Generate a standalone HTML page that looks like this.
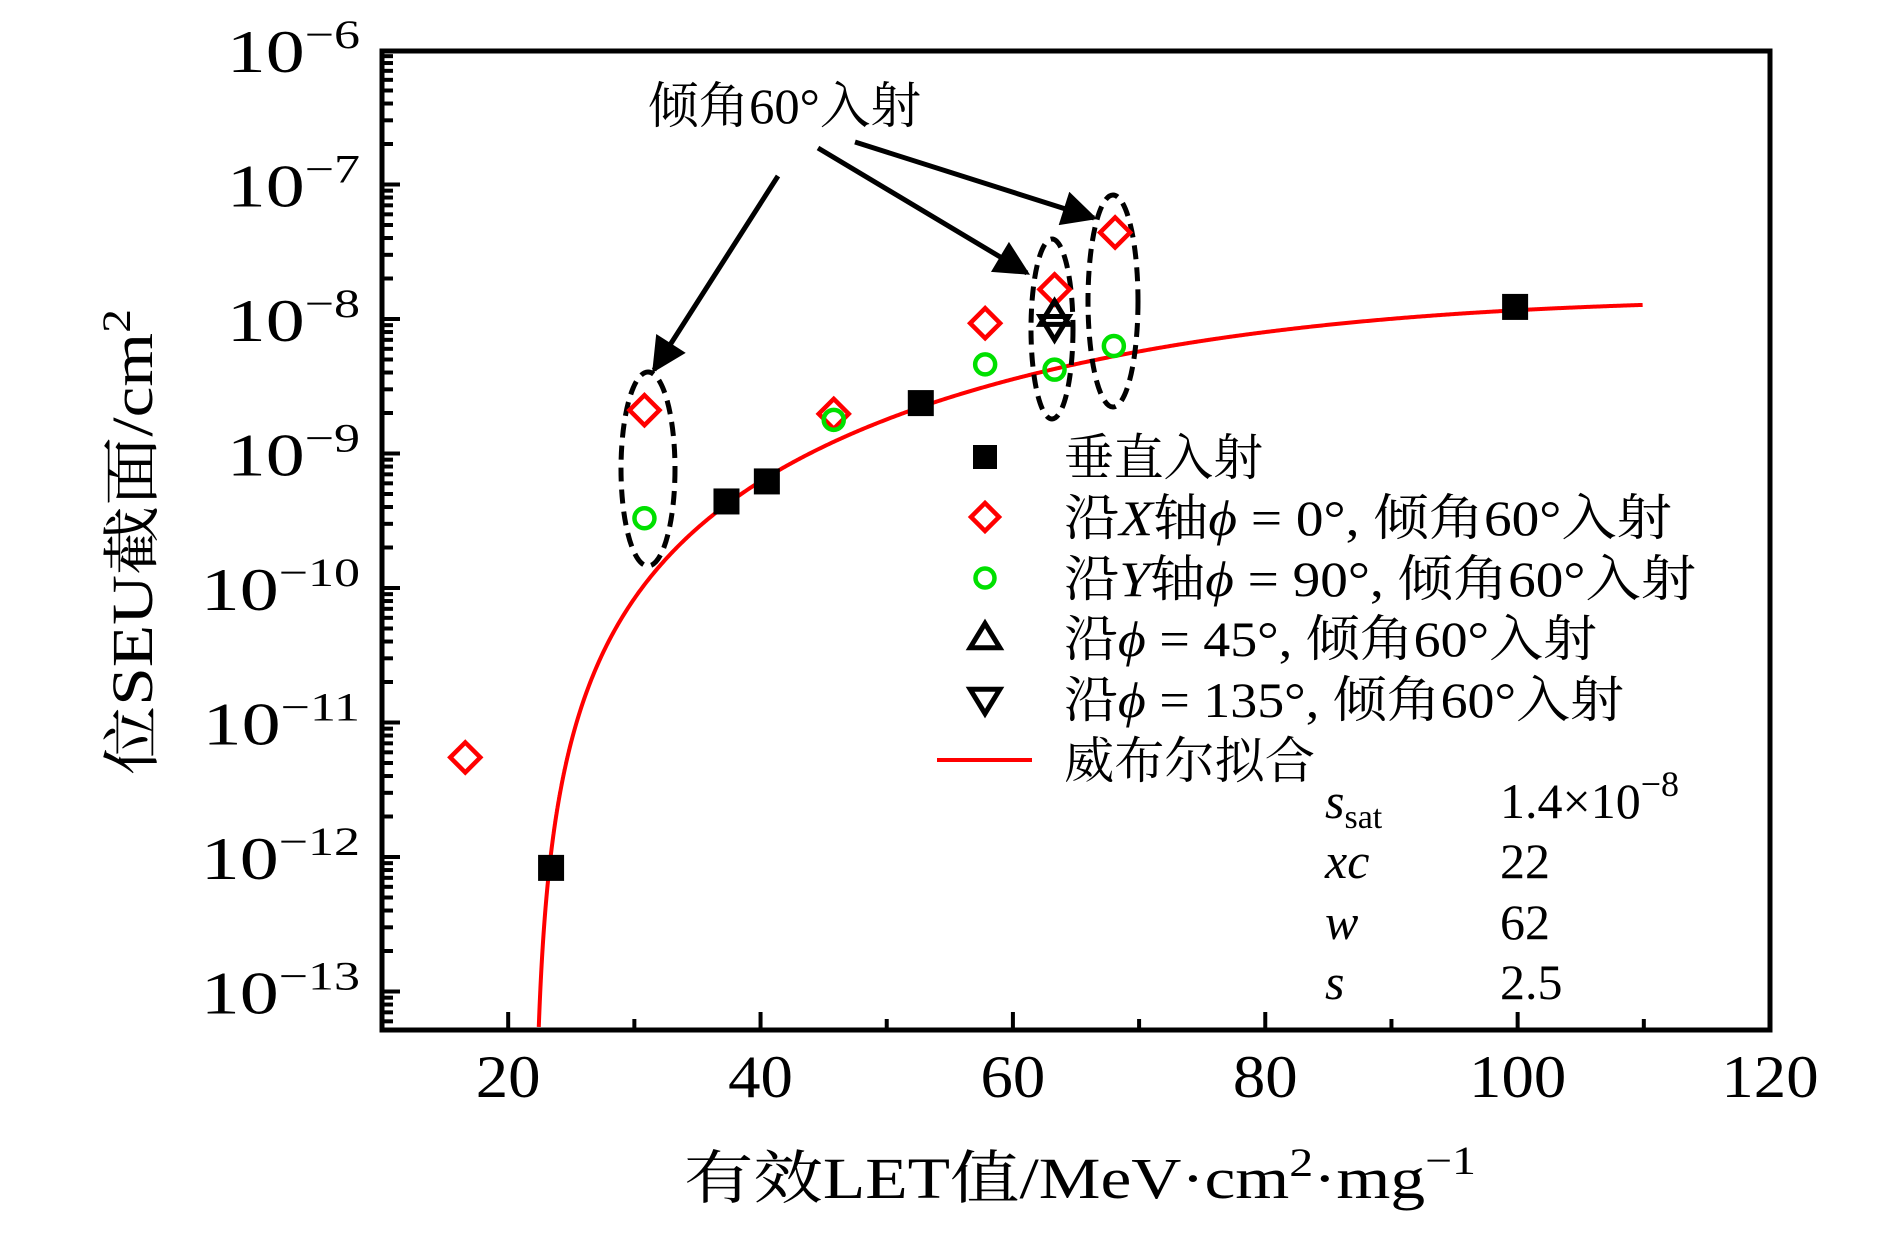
<!DOCTYPE html>
<html><head><meta charset="utf-8"><style>
html,body{margin:0;padding:0;background:#fff;}
svg text{font-family:"Liberation Serif","Noto Serif CJK SC",serif;fill:#000;}
</style></head><body>
<svg id="chart" width="1890" height="1229" viewBox="0 0 1890 1229" xmlns="http://www.w3.org/2000/svg">
<defs>
<marker id="ah" viewBox="0 0 10 10" refX="9" refY="5" markerWidth="8" markerHeight="7" orient="auto" markerUnits="strokeWidth"><path d="M0,0 L10,5 L0,10 z" fill="#000"/></marker>
</defs>
<g id="plot"></g>
</svg>
<script>
// ---- data ----
const xTicks = [20, 40, 60, 80, 100, 120];
const yDecades = [-6, -7, -8, -9, -10, -11, -12, -13];
const normalX = [23.4, 37.3, 40.5, 52.7, 99.8];
const normalY = [8.3e-13, 4.4e-10, 6.2e-10, 2.37e-9, 1.23e-8];
const xAxisX = [16.6, 30.8, 45.8, 57.8, 63.3, 68.1];
const xAxisY = [5.5e-12, 2.1e-9, 1.97e-9, 9.3e-9, 1.66e-8, 4.4e-8];
const yAxisX = [30.8, 45.8, 57.8, 63.3, 68.0];
const yAxisY = [3.3e-10, 1.78e-9, 4.6e-9, 4.2e-9, 6.3e-9];
const phi45X = [63.3];
const phi45Y = [1.07e-8];
const phi135X = [63.3];
const phi135Y = [8.9e-9];
const fitSat = 1.4e-8, fitXc = 22, fitW = 62, fitS = 2.5;

// ---- axes ----
const L = 382, R = 1770, T = 51, B = 1030;
const X = v => L + (v - 10) * (R - L) / 110;
const Y = v => 50 + (-6 - Math.log10(v)) * 134.5;
const NS = 'http://www.w3.org/2000/svg';
const g = document.getElementById('plot');
function mk(tag, attrs, parent) {
  const e = document.createElementNS(NS, tag);
  for (const k in attrs) e.setAttribute(k, attrs[k]);
  (parent || g).appendChild(e);
  return e;
}

// fit curve
let d = '';
for (let x = 22.3; x <= 110.0001; x += (x < 25 ? 0.005 : 0.1)) {
  const s = fitSat * (1 - Math.exp(-Math.pow((x - fitXc) / fitW, fitS)));
  const py = Y(s);
  if (py > B - 2) continue;
  d += (d ? 'L' : 'M') + X(x).toFixed(2) + ',' + py.toFixed(2);
}
const fit = mk('path', {d: d, fill: 'none', stroke: '#ff0000', 'stroke-width': 4});



// ellipses
const ell = [[648, 469, 27, 97], [1052, 329, 21, 90], [1113, 301, 25, 106]];
ell.forEach(e => {
  const el = mk('ellipse', {cx: e[0], cy: e[1], rx: e[2], ry: e[3], fill: 'none', stroke: '#000', 'stroke-width': 5, 'stroke-dasharray': '14 8'});
  
  
});

// arrows
const arr = [[778, 176, 654, 370], [818, 148, 1027, 273], [855, 142, 1094, 218]];
arr.forEach(a => {
  const el = mk('line', {x1: a[0], y1: a[1], x2: a[2], y2: a[3], stroke: '#000', 'stroke-width': 5, 'marker-end': 'url(#ah)'});
  
  
});
const ann = mk('text', {x: 648, y: 123, 'font-size': 50, textLength: 273, lengthAdjust: 'spacingAndGlyphs'});
ann.textContent = '倾角60°入射';



// markers
function square(cx, cy, s, name) {
  const el = mk('rect', {x: cx - s / 2, y: cy - s / 2, width: s, height: s, fill: '#000'});
  
  
}
function diamond(cx, cy, s, name) {
  const el = mk('path', {d: `M${cx},${cy - s}L${cx + s},${cy}L${cx},${cy + s}L${cx - s},${cy}Z`, fill: 'none', stroke: '#ff0000', 'stroke-width': 4.5});
  
  
}
function circle(cx, cy, r, name) {
  const el = mk('circle', {cx: cx, cy: cy, r: r, fill: 'none', stroke: '#00e000', 'stroke-width': 4.5});
  
  
}
function tri(cx, cy, s, up, name) {
  const h = s * 0.9;
  const dd = up ? `M${cx},${cy - h * 0.6}L${cx + s * 0.55},${cy + h * 0.4}L${cx - s * 0.55},${cy + h * 0.4}Z`
                : `M${cx},${cy + h * 0.6}L${cx + s * 0.55},${cy - h * 0.4}L${cx - s * 0.55},${cy - h * 0.4}Z`;
  const el = mk('path', {d: dd, fill: 'none', stroke: '#000', 'stroke-width': 5, 'stroke-linejoin': 'miter'});
  
  
}
normalX.forEach((x, i) => square(X(x), Y(normalY[i]), 26, 'normal-incidence-point'));
xAxisX.forEach((x, i) => diamond(X(x), Y(xAxisY[i]), 15, 'x-axis-phi0-point'));
yAxisX.forEach((x, i) => circle(X(x), Y(yAxisY[i]), 10, 'y-axis-phi90-point'));
phi45X.forEach((x, i) => tri(X(x), Y(phi45Y[i]), 26, true, 'phi45-point'));
phi135X.forEach((x, i) => tri(X(x), Y(phi135Y[i]), 26, false, 'phi135-point'));

// axes frame
const fr = mk('rect', {x: L, y: T, width: R - L, height: B - T, fill: 'none', stroke: '#000', 'stroke-width': 5});



// x ticks
for (let v = 20; v <= 110; v += 10) {
  const major = v % 20 === 0;
  const el = mk('line', {x1: X(v), x2: X(v), y1: B, y2: B - (major ? 18 : 11), stroke: '#000', 'stroke-width': 4});
  
  
}
xTicks.forEach(v => {
  const t = mk('text', {x: 0, y: 0, 'font-size': 60, 'text-anchor': 'middle', transform: `translate(${X(v)},1097) scale(1.08,1)`});
  t.textContent = v;
  
  
});
// y ticks
for (let e = -14; e <= -7; e++) {
  for (let m = 1; m <= 9; m++) {
    const v = m * Math.pow(10, e);
    const py = Y(v);
    if (py > B - 2 || py < T + 2) continue;
    const el = mk('line', {x1: L, x2: L + (m === 1 ? 18 : 11), y1: py, y2: py, stroke: '#000', 'stroke-width': 4});
    
    
  }
}
yDecades.forEach(e => {
  const py = Y(Math.pow(10, e));
  const t = mk('text', {x: 0, y: 0, 'font-size': 60, 'text-anchor': 'end', transform: `translate(360,${py + 22}) scale(1.3,1)`});
  const a = mk('tspan', {}, t); a.textContent = '10';
  const b = mk('tspan', {dy: -24, 'font-size': 40}, t); b.textContent = '\u2212' + (-e);
  
  
});

// axis titles
const xt = mk('text', {x: 684, y: 1198, 'font-size': 58, textLength: 792, lengthAdjust: 'spacingAndGlyphs'});
xt.innerHTML = '有效LET值/MeV·cm<tspan dy="-22" font-size="40">2</tspan><tspan dy="22">·mg</tspan><tspan dy="-24" font-size="40">\u22121</tspan>';


const yt = mk('text', {x: 0, y: 0, 'font-size': 58, 'text-anchor': 'middle', textLength: 466, lengthAdjust: 'spacingAndGlyphs', transform: 'translate(152,542) rotate(-90)'});
yt.innerHTML = '位SEU截面/cm<tspan dy="-22" font-size="40">2</tspan>';



// legend
const legY = [457, 517, 578, 638, 699, 760];
const legW = [199, 608, 632, 533, 560, 251];
const legTxt = ['垂直入射', '沿<tspan font-style="italic">X</tspan>轴<tspan font-style="italic">ϕ</tspan> = 0°, 倾角60°入射',
  '沿<tspan font-style="italic">Y</tspan>轴<tspan font-style="italic">ϕ</tspan> = 90°, 倾角60°入射',
  '沿<tspan font-style="italic">ϕ</tspan> = 45°, 倾角60°入射', '沿<tspan font-style="italic">ϕ</tspan> = 135°, 倾角60°入射', '威布尔拟合'];
square(985, legY[0], 24, 'legend-normal-marker');
diamond(985, legY[1], 14, 'legend-x-marker');
circle(985, legY[2], 9.5, 'legend-y-marker');
tri(985, legY[3], 27, true, 'legend-phi45-marker');
tri(985, legY[4], 27, false, 'legend-phi135-marker');
const ll = mk('line', {x1: 937, x2: 1032, y1: legY[5], y2: legY[5], stroke: '#ff0000', 'stroke-width': 4});


legTxt.forEach((s, i) => {
  const t = mk('text', {x: 1064, y: legY[i] + 18, 'font-size': 50, textLength: legW[i], lengthAdjust: 'spacingAndGlyphs'});
  t.innerHTML = s;
  
  
});
// params
const pLab = ['<tspan font-style="italic">s</tspan><tspan font-size="34" dy="10">sat</tspan>', '<tspan font-style="italic">xc</tspan>', '<tspan font-style="italic">w</tspan>', '<tspan font-style="italic">s</tspan>'];
const pVal = ['1.4×10<tspan dy="-22" font-size="36">\u22128</tspan>', '22', '62', '2.5'];
const pY = [818, 878, 939, 999];
pLab.forEach((s, i) => {
  const t = mk('text', {x: 1325, y: pY[i], 'font-size': 50}); t.innerHTML = s;
  
  
  const v = mk('text', {x: 1500, y: pY[i], 'font-size': 50}); v.innerHTML = pVal[i];
  
  
});
</script>
</body></html>
